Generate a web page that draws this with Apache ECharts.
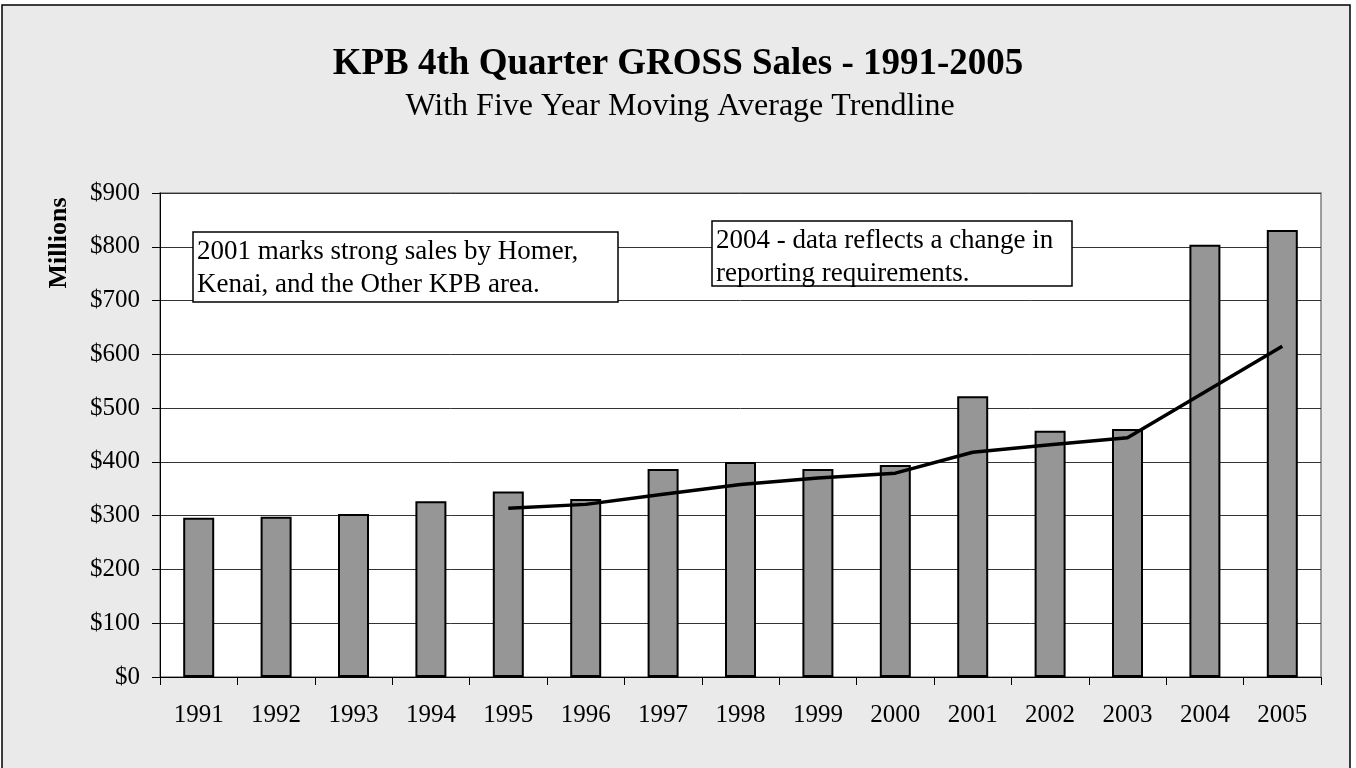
<!DOCTYPE html>
<html>
<head>
<meta charset="utf-8">
<script src="https://cdn.jsdelivr.net/npm/echarts@6/dist/echarts.min.js"></script>
<style>
  html, body { margin: 0; padding: 0; background: #fff; }
  #container { width: 1356px; height: 768px; }
</style>
</head>
<body>
<div id="container"></div>
<script>
// data (millions of dollars)
var years = ['1991', '1992', '1993', '1994', '1995', '1996', '1997', '1998', '1999', '2000', '2001', '2002', '2003', '2004', '2005'];
var grossSales = [296, 298, 303, 327, 345, 331, 387, 400, 387, 394, 522, 458, 461, 804, 831];
var movingAvg = [null, null, null, null, 314, 321, 340, 358, 370, 379, 418, 432, 445, 530, 615];
var yTicks = [0, 100, 200, 300, 400, 500, 600, 700, 800, 900];

var serif = "'Liberation Serif', 'Times New Roman', serif";

var chart = echarts.init(document.getElementById('container'));

var option = {
	animation: false,
	backgroundColor: '#fff',
	grid: {
		left: 160,
		right: 35,
		top: 193,
		bottom: 91,
		show: true,
		backgroundColor: '#fff',
		borderColor: '#808080',
		borderWidth: 1.5
	},
	xAxis: {
		type: 'category',
		data: years,
		axisLine: { lineStyle: { color: '#000', width: 1 } },
		axisTick: { show: true, length: 8, lineStyle: { color: '#000' } },
		axisLabel: { color: '#000', fontFamily: serif, fontSize: 25, margin: 26 }
	},
	yAxis: {
		type: 'value',
		min: yTicks[0],
		max: yTicks[yTicks.length - 1],
		interval: 100,
		axisLine: { show: true, lineStyle: { color: '#000', width: 1 } },
		axisTick: { show: true, length: 8, lineStyle: { color: '#000' } },
		axisLabel: {
			color: '#000', fontFamily: serif, fontSize: 25, margin: 20,
			formatter: function (v) { return '$' + v; }
		},
		splitLine: { lineStyle: { color: '#333', width: 1 } }
	},
	series: [{
		name: 'Gross Sales',
		type: 'bar',
		data: grossSales,
		barWidth: 31,
		itemStyle: { color: '#969696', borderColor: '#000', borderWidth: 2 }
	}, {
		name: 'Five Year Moving Average',
		type: 'line',
		data: movingAvg,
		symbol: 'none',
		z: 5,
		lineStyle: { color: '#000', width: 3.5 }
	}],
	graphic: [
		// outer chart frame
		{ type: 'rect', z: -10, shape: { x: 2, y: 5, width: 1348, height: 800 },
		  style: { fill: '#eaeaea', stroke: '#000', lineWidth: 1.5 } },
		{ type: 'text', x: 678, y: 64, style: {
			text: 'KPB 4th Quarter GROSS Sales - 1991-2005', fill: '#000',
			font: 'bold 37px ' + serif, textAlign: 'center', textVerticalAlign: 'middle' } },
		{ type: 'text', x: 680, y: 107, style: {
			text: 'With Five Year Moving Average Trendline', fill: '#000',
			font: '32px ' + serif, textAlign: 'center', textVerticalAlign: 'middle' } },
		{ type: 'text', x: 59, y: 243, rotation: Math.PI / 2, style: {
			text: 'Millions', fill: '#000',
			font: 'bold 26px ' + serif, textAlign: 'center', textVerticalAlign: 'middle' } },
		// annotation boxes
		{ type: 'rect', z: 20, shape: { x: 193, y: 232, width: 425, height: 70 },
		  style: { fill: '#fff', stroke: '#000', lineWidth: 1.5 } },
		{ type: 'text', z: 21, x: 197, y: 268, style: {
			text: '2001 marks strong sales by Homer,\nKenai, and the Other KPB area.', fill: '#000',
			font: '27px ' + serif, lineHeight: 33, textVerticalAlign: 'middle' } },
		{ type: 'rect', z: 20, shape: { x: 712, y: 221, width: 360, height: 65 },
		  style: { fill: '#fff', stroke: '#000', lineWidth: 1.5 } },
		{ type: 'text', z: 21, x: 716, y: 257, style: {
			text: '2004 - data reflects a change in\nreporting requirements.', fill: '#000',
			font: '27px ' + serif, lineHeight: 33, textVerticalAlign: 'middle' } }
	]
};

chart.setOption(option);
</script>
</body>
</html>
